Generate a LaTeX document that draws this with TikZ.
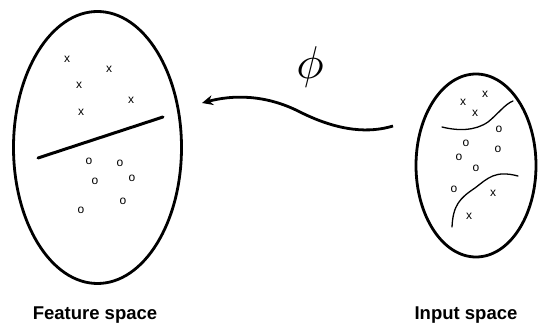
\documentclass[tikz,border=0pt]{standalone}
\usepackage{fontspec}
\setmainfont{Liberation Sans}
\usetikzlibrary{positioning, arrows.meta, shapes.geometric}

\begin{document}
\begin{tikzpicture}[
        x=1pt, y=-1pt,
        space/.style={ellipse, draw=black, line width=2.8pt, inner sep=0pt},
        sample/.style={inner sep=0pt, font=\fontsize{12}{12}\selectfont},
        caption/.style={inner sep=0pt, anchor=base, font=\bfseries\fontsize{18.5}{20}\selectfont},
        boundary/.style={line width=1.3pt, line cap=round},
        arrow/.style={-{Stealth[length=11pt, width=10pt]}, line width=2.8pt}
    ]
        \useasboundingbox (0,0) rectangle (538,328);

        % Spaces
        \node[space, minimum width=168pt, minimum height=272pt] (feat) at (97.5,147.5) {};
        \node[space, minimum width=120pt, minimum height=183pt] (input) at (476,165.5) {};
        \node[caption] (featname) at (95,320) {Feature space};
        \node[caption] (inputname) at (466,320) {Input space};

        % Feature space points
        \foreach \p [count=\i] in {(67,59), (109,69), (79,85), (131,100), (81,112)}
            \node[sample] (fx\i) at \p {x};
        \foreach \p [count=\i] in {(89,161), (120,163), (95,181), (132,178), (123,201), (81,210)}
            \node[sample] (fo\i) at \p {o};
        \draw[line width=3pt, line cap=round] (38,158) -- (163,117);

        % Input space points
        \foreach \p [count=\i] in {(463,102), (485,94), (475,113), (493,193), (469,216)}
            \node[sample] (ix\i) at \p {x};
        \foreach \p [count=\i] in {(499,129), (466,143), (498,149), (459,157), (476,168), (454,189)}
            \node[sample] (io\i) at \p {o};
        \draw[boundary] (442,127) .. controls (458,131) and (475,131) .. (488,122)
                                  .. controls (498,114) and (505,104) .. (513,101);
        \draw[boundary] (452,227) .. controls (453,205) and (460,198) .. (475,188)
                                  .. controls (488,178) and (495,170) .. (518,176);

        % Mapping
        \coordinate (mapstart) at (393,126);
        \coordinate (mapend) at (202,103);
        \node[inner sep=0pt, scale=4.6] (phi) at (310,67) {$\phi$};
        \draw[arrow] (mapstart) .. controls (370,133) and (340,132) .. (300,112)
                                .. controls (265,94) and (232,95) .. (mapend);
    \end{tikzpicture}
\end{document}
